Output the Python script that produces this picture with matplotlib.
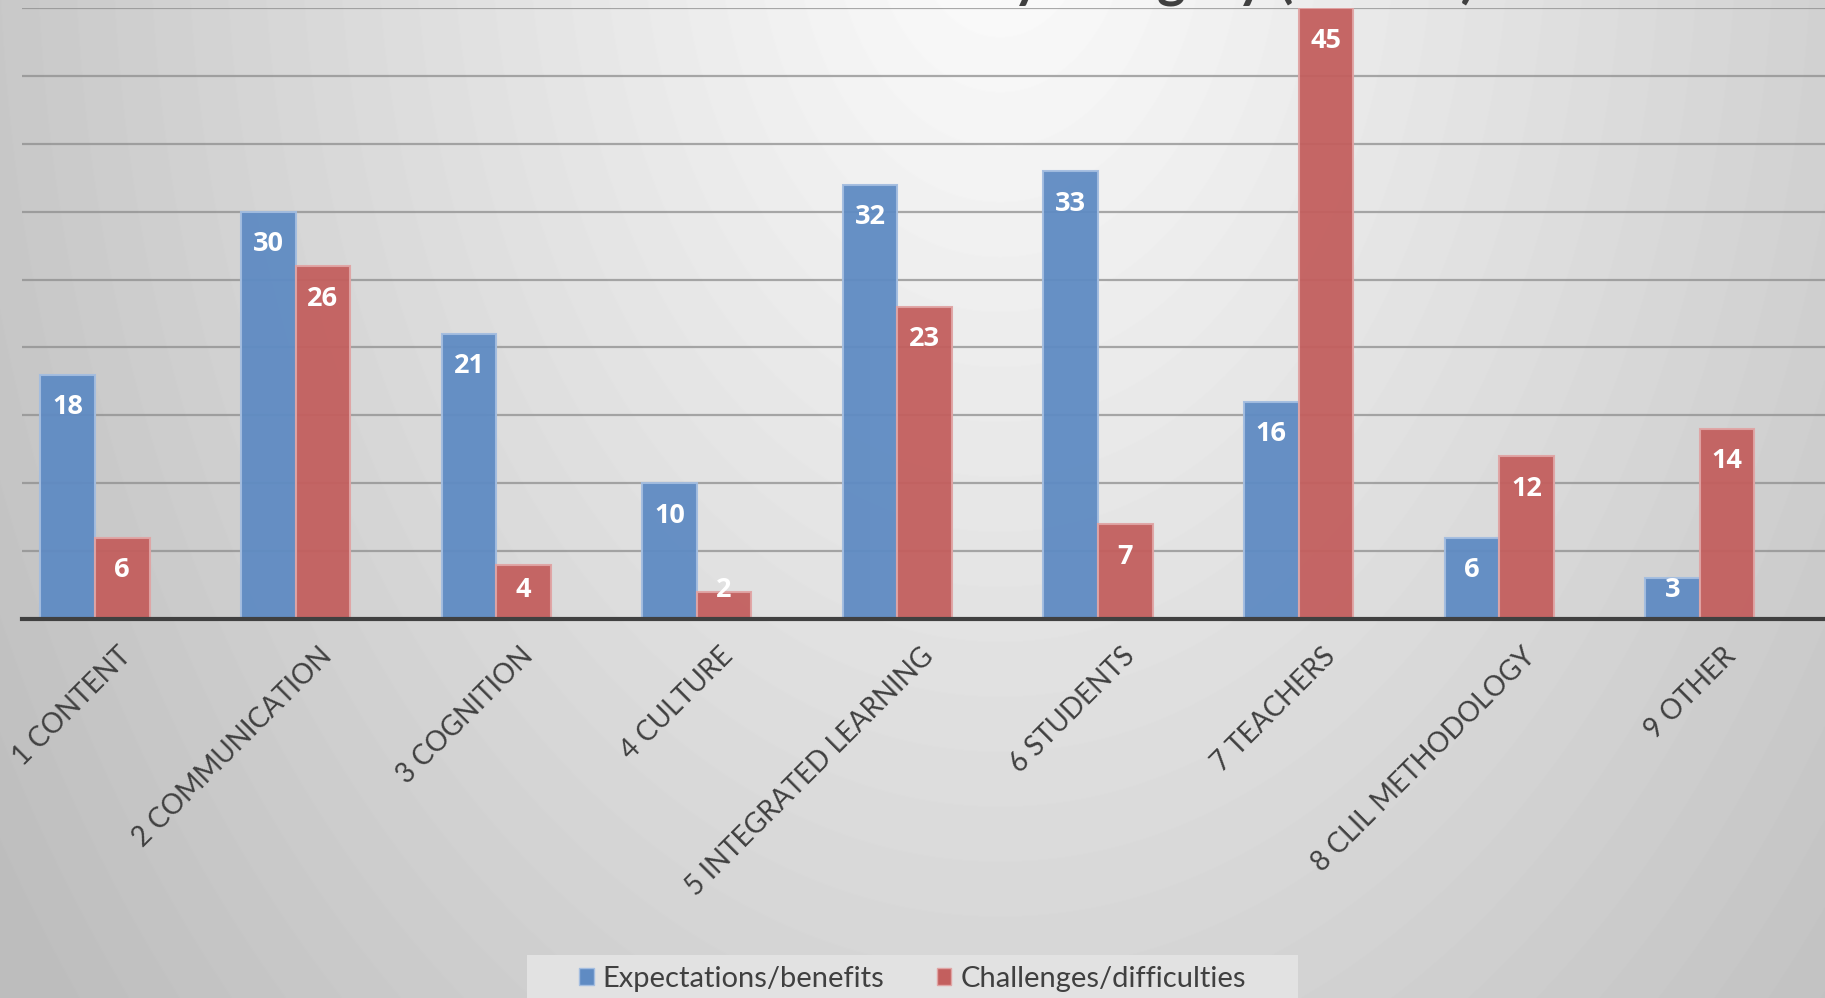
import numpy as np
import matplotlib
matplotlib.use("Agg")
import matplotlib.pyplot as plt
from matplotlib.patches import Patch, Rectangle
from matplotlib.transforms import ScaledTranslation

categories = ["1 CONTENT", "2 COMMUNICATION", "3 COGNITION", "4 CULTURE",
              "5 INTEGRATED LEARNING", "6 STUDENTS", "7 TEACHERS",
              "8 CLIL METHODOLOGY", "9 OTHER"]
expectations = [18, 30, 21, 10, 32, 33, 16, 6, 3]
challenges = [6, 26, 4, 2, 23, 7, 45, 12, 14]
series_names = ["Expectations/benefits", "Challenges/difficulties"]
title = "Number of comments by category (N=308)"

W, H, DPI = 1825, 998, 100
fig = plt.figure(figsize=(W / DPI, H / DPI), dpi=DPI)

# background radial gradient
bg = fig.add_axes([0, 0, 1, 1], zorder=-10)
yy, xx = np.mgrid[0:H, 0:W]
r = np.sqrt(((xx - 1000) / 1100.0) ** 2 + ((yy + 100) / 1600.0) ** 2)
val = np.clip(253 - 58 * r, 190, 253) / 255.0
bg.imshow(val, cmap="gray", vmin=0, vmax=1, aspect="auto", extent=[0, 1, 0, 1])
bg.axis("off")

blue, blue_edge = "#5f8bc3", "#a3bde0"
red, red_edge = "#c35f5e", "#e0a4a4"

ax_left = 22 / W
ax_bottom = 1 - 619 / H
ax_top = 1 - 8 / H
ax = fig.add_axes([ax_left, ax_bottom, 1 - ax_left, ax_top - ax_bottom])
ax.set_facecolor("none")

x = np.arange(len(categories))
bw = 0.272
ax.bar(x - bw / 2, expectations, bw, color=blue, edgecolor=blue_edge,
       linewidth=1.5, alpha=0.95, zorder=3)
ax.bar(x + bw / 2, challenges, bw, color=red, edgecolor=red_edge,
       linewidth=1.5, alpha=0.95, zorder=3)

ax.set_xlim(-0.364, 8.624)
ax.set_ylim(0, 45)
ax.set_yticks(np.arange(5, 46, 5))
ax.yaxis.grid(True, color="#8e8e8e", linewidth=1.6, alpha=0.75, zorder=0)
ax.tick_params(axis="y", left=False, labelleft=False)
ax.tick_params(axis="x", bottom=False, labelbottom=False)
for s in ["top", "right", "left"]:
    ax.spines[s].set_visible(False)
ax.spines["bottom"].set_color("#404040")
ax.spines["bottom"].set_linewidth(3.0)
ax.spines["bottom"].set_zorder(5)

label_font = dict(family="Open Sans", weight="bold", size=19.5, color="white")
for xs, vals in ((x - bw / 2, expectations), (x + bw / 2, challenges)):
    for xi, v in zip(xs, vals):
        ypos = max(v - 2.4, 2.15)
        ax.text(xi, ypos, str(v), ha="center", va="center", zorder=6, **label_font)

# category labels
off = ScaledTranslation(23 / DPI, -24 / DPI, fig.dpi_scale_trans)
for xi, lab in zip(x, categories):
    ax.text(xi, 0, lab, transform=ax.get_xaxis_transform() + off,
            rotation=45, rotation_mode="anchor", ha="right", va="top",
            family="Lato", size=20, color="#404040")

# title (cropped at top in the reference)
fig.text(1475 / W, 1 + 3 / H, title, ha="right", va="baseline",
         family="Lato", weight="bold", size=39, color="#404040")

# legend
fig.patches.append(Rectangle((527 / W, -0.01), (1298 - 527) / W, 0.01 + (H - 955) / H,
                             transform=fig.transFigure, facecolor="#e2e2e2",
                             edgecolor="none", zorder=1))
handles = [Patch(facecolor=blue, edgecolor=blue_edge), Patch(facecolor=red, edgecolor=red_edge)]
leg = fig.legend(handles, series_names, loc="center", bbox_to_anchor=(0.5, 1 - 979 / H),
                 ncol=2, frameon=False, handlelength=0.5, handleheight=0.5,
                 handletextpad=0.3, columnspacing=1.8,
                 prop=dict(family="Lato", size=21))
for t in leg.get_texts():
    t.set_color("#404040")
leg.set_zorder(2)

fig.savefig("out.png", dpi=DPI)
